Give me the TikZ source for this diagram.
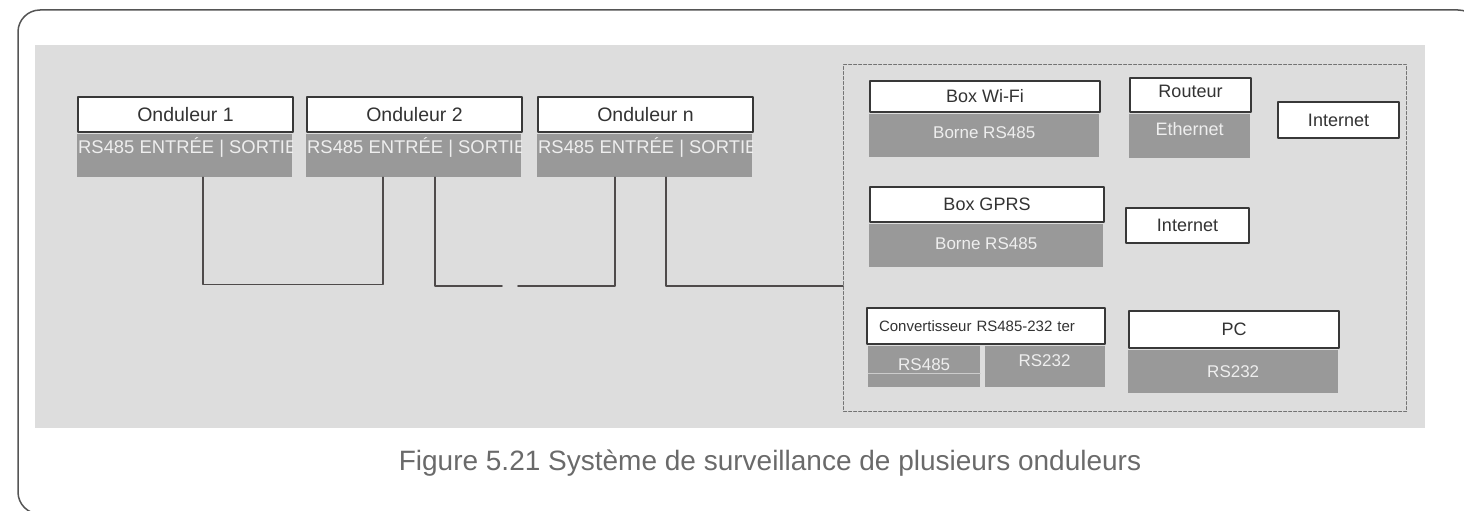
\documentclass[tikz,border=0pt]{standalone}
\usepackage{fontspec}
\setmainfont{Liberation Sans}
\usetikzlibrary{positioning}

\definecolor{fondgris}{HTML}{DDDDDD}
\definecolor{grisboite}{HTML}{999999}
\definecolor{trait}{HTML}{383838}
\definecolor{texte}{HTML}{333333}
\definecolor{texteclair}{HTML}{EEEEEE}
\definecolor{filcol}{HTML}{4E4A4A}
\definecolor{cadre}{HTML}{555555}
\definecolor{legende}{HTML}{6A6A6A}

\begin{document}
\begin{tikzpicture}[line cap=round,line join=round,x=1pt,y=-1pt,
	tete/.style={draw=trait,line width=2pt,fill=white,anchor=north west,inner sep=0pt,text=texte,font=\fontsize{18}{20}\selectfont},
	corps/.style={fill=grisboite,anchor=north west,inner sep=0pt,text depth=7pt,text=texteclair,font=\fontsize{17}{19}\selectfont},
	entree/.style={anchor=west,inner sep=0pt,text=texteclair,font=\fontsize{18.4}{20}\selectfont},
	fil/.style={draw=filcol,line width=1.8pt}]
		\useasboundingbox (0,0) rectangle (1464,511);
		\clip (0,0) rectangle (1464,511);
		\draw [cadre,line width=1.5pt,rounded corners=22pt] (18,10) rectangle (1480,514);
		\fill [fondgris] (35,45) rectangle (1425,428);
		\node [anchor=north west,inner sep=0pt,minimum width=563pt,minimum height=347pt,draw=gray!90!black,line width=1pt,dash pattern=on 3pt off 2pt] (zone) at (843,64) {};
		\node [tete,minimum width=215pt,minimum height=35pt,font=\fontsize{19.5}{21}\selectfont] (ond1) at (77,96) {Onduleur 1};
		\node [corps,minimum width=215pt,minimum height=43pt,below right=1pt and 0pt of ond1.south west] (ond1b) {};
		\node [tete,minimum width=215pt,minimum height=35pt,font=\fontsize{19.5}{21}\selectfont] (ond2) at (306,96) {Onduleur 2};
		\node [corps,minimum width=215pt,minimum height=43pt,below right=1pt and 0pt of ond2.south west] (ond2b) {};
		\node [tete,minimum width=215pt,minimum height=35pt,font=\fontsize{19.5}{21}\selectfont] (ondn) at (537,96) {Onduleur n};
		\node [corps,minimum width=215pt,minimum height=43pt,below right=1pt and 0pt of ondn.south west] (ondnb) {};
		\begin{scope}
			\clip (ond1b.north west) rectangle (ond1b.south east);
			\node [entree] (ent1) at ([xshift=1pt,yshift=8pt]ond1b.west) {RS485 ENTRÉE | SORTIE};
		\end{scope}
		\begin{scope}
			\clip (ond2b.north west) rectangle (ond2b.south east);
			\node [entree] (ent2) at ([xshift=1pt,yshift=8pt]ond2b.west) {RS485 ENTRÉE | SORTIE};
		\end{scope}
		\begin{scope}
			\clip (ondnb.north west) rectangle (ondnb.south east);
			\node [entree] (entn) at ([xshift=1pt,yshift=8pt]ondnb.west) {RS485 ENTRÉE | SORTIE};
		\end{scope}
		\coordinate (coupg) at (502,286);
		\coordinate (coupd) at (518,286);
		\draw [fil] ([xshift=18.5pt]ond1b.south) -- ++(0,107) -| ([xshift=-30.5pt]ond2b.south);
		\draw [fil] ([xshift=21.5pt]ond2b.south) |- (coupg);
		\draw [fil] (coupd) -| ([xshift=-29.5pt]ondnb.south);
		\draw [fil] ([xshift=21.5pt]ondnb.south) |- (zone.west |- coupd);
		\node [tete,minimum width=230pt,minimum height=31pt] (wifi) at (869,80) {Box Wi-Fi};
		\node [corps,minimum width=230pt,minimum height=43pt,below right=1pt and 0pt of wifi.south west] (wifib) {Borne RS485};
		\node [tete,minimum width=121pt,minimum height=34pt,text depth=7pt] (routeur) at (1129,77) {Routeur};
		\node [corps,minimum width=121pt,minimum height=44pt,text depth=14pt,font=\fontsize{18}{20}\selectfont,below right=1pt and 0pt of routeur.south west] (routeurb) {Ethernet};
		\node [tete,minimum width=121pt,minimum height=36pt] (net1) at (1277,101) {Internet};
		\node [tete,minimum width=234pt,minimum height=35pt] (gprs) at (869,186) {Box GPRS};
		\node [corps,minimum width=234pt,minimum height=43pt,text depth=4pt,below right=1pt and 0pt of gprs.south west] (gprsb) {Borne RS485};
		\node [tete,minimum width=123pt,minimum height=35pt] (net2) at (1125,207) {Internet};
		\node [tete,minimum width=238pt,minimum height=36pt,inner xsep=12pt,text width=214pt,align=left,font=\fontsize{15}{17}\selectfont] (conv) at (866,307) {Convertisseur RS485-232 ter};
		\node [corps,minimum width=112pt,minimum height=41pt,text depth=5pt,below right=1pt and 2pt of conv.south west] (convg) {RS485};
		\node [corps,minimum width=120pt,minimum height=41pt,text depth=12pt,anchor=west,right=4pt of convg] (convd) {RS232};
		\draw [texteclair!60!grisboite,line width=0.8pt] (convg.west |- 0,373) -- (convg.east |- 0,373);
		\node [tete,minimum width=210pt,minimum height=37pt] (pc) at (1128,310) {PC};
		\node [corps,minimum width=210pt,minimum height=43pt,text depth=0pt,below right=1pt and 0pt of pc.south west] (pcb) {RS232};
		\node [text=legende,font=\fontsize{28}{32}\selectfont] (titre) at (770,463) {Figure 5.21 Système de surveillance de plusieurs onduleurs};
	\end{tikzpicture}
\end{document}
